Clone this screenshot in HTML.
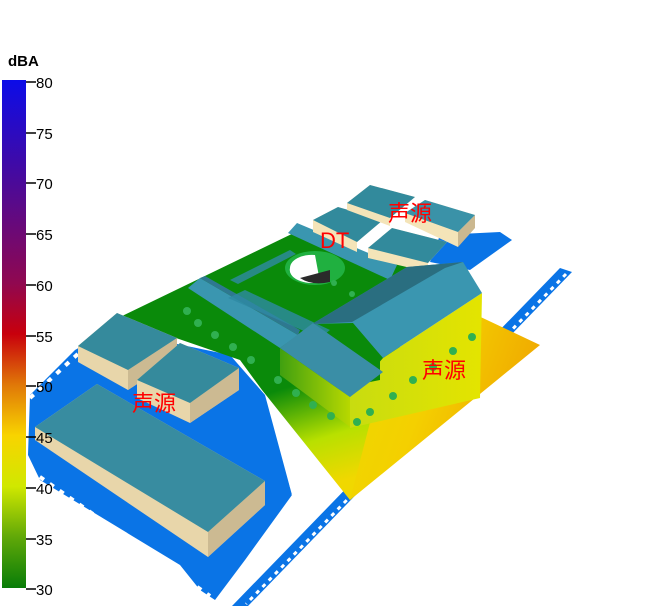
<!DOCTYPE html>
<html><head><meta charset="utf-8"><style>
html,body{margin:0;padding:0;background:#fff;width:663px;height:608px;overflow:hidden}
svg{display:block}
.t{font-family:"Liberation Sans","Noto Sans CJK SC",sans-serif;fill:red;font-size:22px}
.l{font-family:"Liberation Sans",sans-serif;font-size:15px;fill:#000}
</style></head><body>
<svg width="663" height="608" viewBox="0 0 663 608" xmlns="http://www.w3.org/2000/svg">
<defs>
<linearGradient id="leg" x1="0" y1="0" x2="0" y2="1">
<stop offset="0" stop-color="#0c0ce8"/>
<stop offset="0.2" stop-color="#4a0a9a"/>
<stop offset="0.4" stop-color="#900850"/>
<stop offset="0.5" stop-color="#c8000c"/>
<stop offset="0.6" stop-color="#e07808"/>
<stop offset="0.7" stop-color="#f8d400"/>
<stop offset="0.8" stop-color="#d0e800"/>
<stop offset="0.9" stop-color="#60a808"/>
<stop offset="1" stop-color="#087c08"/>
</linearGradient>
<linearGradient id="gr" x1="0.2" y1="0.2" x2="0.5" y2="1">
<stop offset="0" stop-color="#0a8a0a"/>
<stop offset="0.55" stop-color="#0a8a0a"/>
<stop offset="0.8" stop-color="#b8e000"/>
<stop offset="1" stop-color="#f0d800"/>
</linearGradient>
<linearGradient id="yel" x1="0" y1="0" x2="1" y2="0.3">
<stop offset="0" stop-color="#e8e000"/>
<stop offset="0.6" stop-color="#f4d000"/>
<stop offset="1" stop-color="#f0a800"/>
</linearGradient>
<linearGradient id="wall" x1="0" y1="0" x2="1" y2="0">
<stop offset="0" stop-color="#c8dc10"/>
<stop offset="1" stop-color="#e4e400"/>
</linearGradient>
<linearGradient id="wall2" x1="0" y1="0" x2="1" y2="0">
<stop offset="0" stop-color="#40a010"/>
<stop offset="1" stop-color="#b8d800"/>
</linearGradient>
</defs>

<!-- left blue road area -->
<polygon points="28,455 30,395 75,350 110,330 230,355 265,395 292,495 245,560 215,600 200,590 180,565 40,480" fill="#0a74e6"/>
<g stroke="#fff" stroke-width="4" stroke-dasharray="5 7">
<line x1="30" y1="470" x2="210" y2="596"/>
<line x1="272" y1="400" x2="295" y2="500"/>
<line x1="30" y1="398" x2="80" y2="352"/>
</g>

<!-- right blue strip -->
<polygon points="560,268 572,272 248,606 232,606" fill="#0a74e6"/>
<line x1="566" y1="274" x2="246" y2="604" stroke="#fff" stroke-width="3" stroke-dasharray="4 5"/>
<!-- top blue strip -->
<polygon points="440,235 500,232 512,240 470,270 430,262" fill="#0a74e6"/>

<!-- yellow ground right -->
<polygon points="300,398 350,500 540,345 470,312 383,372" fill="url(#yel)"/>
<!-- green ground main -->
<polygon points="118,318 300,230 445,280 383,372 350,500 262,390 240,360" fill="url(#gr)"/>

<!-- courtyard & circle -->
<ellipse cx="315" cy="268" rx="30" ry="17" fill="#20b040"/>
<path d="M290,268 A22,13 0 0 1 315,255 L320,282 A22,13 0 0 1 290,268Z" fill="#fff"/>
<path d="M300,278 L330,270 L330,282 Q312,286 300,278Z" fill="#2a2a2a"/>

<!-- courtyard wings roofs -->
<polygon points="188,288 200,278 298,335 280,348" fill="#3a96b0"/>
<polygon points="200,278 205,276 300,330 298,335" fill="#2e7890"/>
<polygon points="288,233 297,223 397,265 390,280" fill="#3a96b0"/>
<polygon points="228,298 245,290 330,330 320,338" fill="#2e8aa4" opacity="0.8"/>
<polygon points="230,280 290,250 296,254 238,284" fill="#2e8aa4" opacity="0.8"/>

<!-- top buildings -->
<polygon points="313,220 338,207 383,220 357,242 357,252 313,232" fill="#f4e4b8"/>
<polygon points="313,220 338,207 383,220 357,242" fill="#328a9c"/>
<polygon points="347,203 370,185 415,197 390,218 390,226 347,210" fill="#f4e4b8"/>
<polygon points="347,203 370,185 415,197 390,218" fill="#328a9c"/>
<polygon points="405,213 425,200 475,215 458,232 458,247 405,222" fill="#f4e4b8"/>
<polygon points="458,232 475,215 475,228 458,247" fill="#cbb890"/>
<polygon points="405,213 425,200 475,215 458,232" fill="#3a92a8"/>
<polygon points="368,248 392,228 447,242 428,263 428,272 368,258" fill="#f4e4b8"/>
<polygon points="368,248 392,228 447,242 428,263" fill="#328a9c"/>

<!-- main right building -->
<polygon points="383,358 482,293 480,398 350,428 350,397" fill="url(#wall)"/>
<polygon points="330,330 380,300 380,380 330,390" fill="#0a8a0a"/>
<polygon points="312,324 407,267 463,262 482,293 383,358 353,323" fill="#3a96b0"/>
<polygon points="312,324 407,267 463,262 445,268 352,322" fill="#2a6e80"/>
<!-- lower-left wing -->
<polygon points="280,348 350,397 350,427 280,375" fill="url(#wall2)"/>
<polygon points="280,348 313,323 383,372 350,397" fill="#3a8ea6"/>

<!-- left buildings -->
<polygon points="78,346 117,313 177,338 177,358 128,390 78,362" fill="#e8d6aa"/>
<polygon points="128,370 177,338 177,358 128,390" fill="#ccba92"/>
<polygon points="78,346 117,313 177,338 128,370" fill="#358a9c"/>
<polygon points="137,380 180,343 239,368 239,390 190,423 137,398" fill="#e8d6aa"/>
<polygon points="190,403 239,368 239,390 190,423" fill="#ccba92"/>
<polygon points="137,380 180,343 239,368 190,403" fill="#358a9c"/>
<polygon points="35,427 97,384 265,481 265,505 208,557 35,440" fill="#e8d6aa"/>
<polygon points="208,532 265,481 265,505 208,557" fill="#ccba92"/>
<polygon points="35,427 97,384 265,481 208,532" fill="#388ca0"/>

<!-- trees -->
<g fill="#30b050">
<circle cx="187" cy="311" r="4"/><circle cx="198" cy="323" r="4"/><circle cx="215" cy="335" r="4"/><circle cx="233" cy="347" r="4"/><circle cx="251" cy="360" r="4"/><circle cx="278" cy="380" r="4"/><circle cx="296" cy="393" r="4"/><circle cx="313" cy="405" r="4"/><circle cx="331" cy="416" r="4"/><circle cx="357" cy="422" r="4"/><circle cx="370" cy="412" r="4"/><circle cx="393" cy="396" r="4"/><circle cx="413" cy="380" r="4"/><circle cx="433" cy="367" r="4"/><circle cx="453" cy="351" r="4"/><circle cx="472" cy="337" r="4"/><circle cx="334" cy="283" r="3"/><circle cx="352" cy="294" r="3"/>
</g>

<!-- labels -->
<text x="388" y="221" class="t">声源</text>
<text x="320" y="248" class="t">DT</text>
<text x="422" y="378" class="t">声源</text>
<text x="132" y="411" class="t">声源</text>

<!-- legend (on top) -->
<text x="8" y="66" class="l" font-weight="bold">dBA</text>
<rect x="2" y="80" width="24" height="508" fill="url(#leg)"/>
<g stroke="#000" stroke-width="1.5">
<line x1="26" y1="82" x2="36" y2="82"/><line x1="26" y1="133" x2="36" y2="133"/><line x1="26" y1="183" x2="36" y2="183"/><line x1="26" y1="234" x2="36" y2="234"/><line x1="26" y1="285" x2="36" y2="285"/><line x1="26" y1="336" x2="36" y2="336"/><line x1="26" y1="386" x2="36" y2="386"/><line x1="26" y1="437" x2="36" y2="437"/><line x1="26" y1="488" x2="36" y2="488"/><line x1="26" y1="539" x2="36" y2="539"/><line x1="26" y1="589" x2="36" y2="589"/>
</g>
<g class="l">
<text x="36" y="88">80</text><text x="36" y="139">75</text><text x="36" y="189">70</text><text x="36" y="240">65</text><text x="36" y="291">60</text><text x="36" y="342">55</text><text x="36" y="392">50</text><text x="36" y="443">45</text><text x="36" y="494">40</text><text x="36" y="545">35</text><text x="36" y="595">30</text>
</g>
</svg>
</body></html>
